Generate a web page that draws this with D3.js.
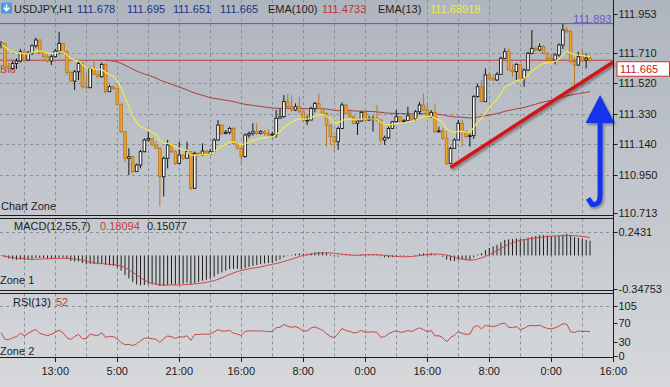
<!DOCTYPE html>
<html><head><meta charset="utf-8">
<script src="https://cdn.jsdelivr.net/npm/d3@7"></script>
<style>
html,body{margin:0;padding:0;background:#d2d4d7;}
svg{display:block;font-family:"Liberation Sans",Arial,sans-serif;}
</style></head><body>
<svg id="c" width="670" height="387"></svg>
<script>
// ---------------- DATA ----------------
const symbol = "USDJPY,H1";
const headerOHLC = ["111.678", "111.695", "111.651", "111.665"];
const firstOpen = 111.762;
const closes = [
111.770,111.624,111.614,111.645,111.660,111.718,111.666,111.708,111.755,111.791,
111.714,111.687,111.660,111.687,111.722,111.770,111.718,111.589,111.535,111.593,
111.645,111.500,111.494,111.614,111.577,111.562,111.639,111.469,111.500,111.490,
111.390,111.220,111.054,111.064,110.971,111.012,111.095,111.168,111.178,
111.137,
111.116,110.939,111.054,111.137,111.095,111.022,111.074,111.054,111.095,110.867,
111.085,111.074,111.099,111.079,111.095,111.168,111.261,111.209,111.216,111.240,
111.147,111.116,111.064,111.199,111.209,111.220,111.209,111.220,111.209,111.199,
111.203,111.303,111.313,111.407,111.375,111.355,111.375,111.344,111.292,
111.292,111.365,111.396,111.365,111.334,111.261,111.189,111.157,111.240,111.386,
111.334,111.313,111.272,111.286,111.340,111.292,111.299,111.303,111.292,111.168,
111.182,111.240,111.282,111.313,111.282,111.288,111.319,111.299,111.344,111.386,
111.355,111.313,111.340,111.220,111.224,111.178,111.022,111.116,111.168,
111.272,111.220,111.189,111.195,111.438,111.500,111.407,111.573,111.552,111.542,
111.577,111.677,111.718,111.604,111.594,111.639,111.552,111.604,111.708,111.739,
111.729,111.750,111.708,111.677,111.666,111.698,111.760,111.853,111.843,111.656,
111.635,111.687,111.666,111.678,111.665];
const highs = [
111.784,111.708,111.651,111.660,111.676,111.735,111.728,111.722,111.764,111.805,
111.791,111.722,111.708,111.701,111.735,111.842,111.759,111.728,111.597,111.604,
111.660,111.651,111.577,111.624,111.666,111.610,111.651,111.645,111.510,111.506,
111.494,111.396,111.224,111.116,111.070,111.022,111.106,111.178,111.220,
111.170,
111.162,111.126,111.064,111.168,111.132,111.106,111.157,111.079,111.157,111.089,
111.095,111.091,111.147,111.103,111.112,111.178,111.292,111.265,111.230,111.251,
111.251,111.157,111.126,111.209,111.220,111.272,111.272,111.230,111.230,111.236,
111.220,111.355,111.361,111.448,111.458,111.448,111.396,111.438,111.340,
111.319,111.375,111.406,111.458,111.369,111.340,111.265,111.195,111.251,111.402,
111.396,111.361,111.319,111.299,111.348,111.340,111.319,111.319,111.386,111.299,
111.195,111.251,111.286,111.355,111.303,111.299,111.375,111.319,111.355,111.406,
111.458,111.396,111.355,111.396,111.251,111.245,111.224,111.126,111.178,
111.293,111.293,111.230,111.209,111.448,111.521,111.542,111.614,111.590,111.577,
111.590,111.687,111.739,111.739,111.639,111.646,111.639,111.614,111.718,111.853,
111.750,111.770,111.760,111.714,111.708,111.708,111.770,111.893,111.874,111.853,
111.681,111.718,111.729,111.708,111.695];
const lows = [
111.739,111.593,111.604,111.604,111.610,111.651,111.655,111.660,111.697,111.743,
111.701,111.676,111.651,111.635,111.681,111.701,111.708,111.573,111.527,111.479,
111.541,111.490,111.485,111.490,111.573,111.552,111.556,111.458,111.473,111.479,
111.382,111.209,111.029,110.950,110.960,110.971,110.991,111.091,111.157,
111.130,
111.112,110.753,110.815,110.991,111.085,111.012,111.016,111.043,111.058,110.856,
110.863,111.064,111.070,111.070,111.074,111.095,111.162,111.199,111.203,111.203,
111.137,111.106,111.012,111.058,111.182,111.195,111.199,111.203,111.195,111.189,
111.178,111.182,111.303,111.307,111.365,111.344,111.348,111.334,111.282,
111.261,111.303,111.340,111.361,111.328,111.126,111.137,111.095,111.106,111.236,
111.328,111.307,111.265,111.199,111.282,111.286,111.286,111.220,111.282,111.147,
111.137,111.174,111.236,111.278,111.278,111.278,111.286,111.286,111.286,111.328,
111.348,111.307,111.307,111.209,111.216,111.168,111.012,111.016,111.112,
111.168,111.126,111.178,111.126,111.174,111.432,111.403,111.465,111.542,111.536,
111.536,111.577,111.673,111.598,111.563,111.542,111.542,111.500,111.598,111.702,
111.718,111.722,111.702,111.666,111.656,111.639,111.687,111.735,111.833,111.646,
111.511,111.631,111.656,111.614,111.651];

const timeLabels = ["13:00","5:00","21:00","16:00","8:00","0:00","16:00","8:00","0:00","16:00"];
const timeLabelBars = [14,30,46,62,78,94,110,126,142,158];
const gridBars = [6,14,22,30,38,46,54,62,70,78,86,94,102,110,118,126,134,142,150];
const priceTicks = [111.953,111.710,111.520,111.330,111.140,110.950,110.713];
const priceGrid = [111.710,111.520,111.330,111.140,110.950];
const macdTicks = [0.2431,-0.34753];
const macdTickLabels = ["0.2431","-0.34753"];
const rsiTicks = [105,70,30,0];
const bidPrice = 111.665;
const highPrice = 111.893;
const ema100StartBar = 27, ema100Seed = 111.666;
const ema13Text = "111.68918", ema100Text = "111.4733";
const macdTexts = ["0.18094","0.15077"];
const rsiText = "52";
const rsiSeed = 0.015;
const trendPts = [[116,110.997],[158,111.654]];
const resistPts = [[135,111.887],[158,111.887]];
const arrowBar = 154.6, arrowTip = 111.448, arrowBase = 111.274, arrowBottom = 110.760;

// ---------------- INDICATORS ----------------
const N = closes.length;
const opens = closes.map((c,i)=> i===0 ? firstOpen : closes[i-1]);
const bars = closes.map((c,i)=>({i, o:opens[i], c, h:Math.max(highs[i],opens[i],c), l:Math.min(lows[i],opens[i],c)}));
function ema(vals,n,start,seed){const k=2/(n+1);const out=new Array(vals.length).fill(null);let e=seed;
  for(let i=start;i<vals.length;i++){ if(i>start) e=vals[i]*k+e*(1-k); out[i]=e;} return out;}
const ema13 = ema(closes,13,0,closes[0]);
const ema100 = ema(closes,100,ema100StartBar,ema100Seed);
const e12 = ema(closes,12,0,closes[0]), e55 = ema(closes,55,0,closes[0]);
const macd = e12.map((v,i)=>v-e55[i]);
const signal = macd.map((v,i)=>{const s=macd.slice(Math.max(0,i-6),i+1);return d3.mean(s);});
const rsi = [];
{let ag=rsiSeed, al=rsiSeed; for(let i=0;i<N;i++){ if(i>0){const ch=closes[i]-closes[i-1];
  ag=(ag*12+Math.max(ch,0))/13; al=(al*12+Math.max(-ch,0))/13;} rsi.push(100-100/(1+ag/al));}}

// ---------------- SCALES ----------------
const svg = d3.select("#c");
const R = 613.5;
const xs = d3.scaleLinear().domain([0,158]).range([1,613.25]);
const ys = d3.scaleLinear().domain([110.713,111.953]).range([213,14]);
const ym = d3.scaleLinear().domain([-0.34753,0.2431]).range([289,232]);
const yr = d3.scaleLinear().domain([0,105]).range([356.25,306.4]);
const panels = [[0,215],[218.5,290],[293.5,357]];

// background
const defs = svg.append("defs");
const g1 = defs.append("linearGradient").attr("id","bg").attr("x1",0).attr("y1",0).attr("x2",0).attr("y2",1);
g1.append("stop").attr("offset","0%").attr("stop-color","#afb5be");
g1.append("stop").attr("offset","55%").attr("stop-color","#c4c8ce");
g1.append("stop").attr("offset","100%").attr("stop-color","#d6d8db");
const sh = defs.append("filter").attr("id","sh").attr("x","-20%").attr("y","-20%").attr("width","140%").attr("height","140%");
sh.append("feDropShadow").attr("dx",1.5).attr("dy",2).attr("stdDeviation",1.2).attr("flood-color","#000").attr("flood-opacity",0.35);
svg.append("rect").attr("width",670).attr("height",387).attr("fill","url(#bg)");

// grid
const grid = svg.append("g").attr("stroke","#8a9199").attr("stroke-dasharray","3,3").attr("stroke-width",1);
panels.forEach(([a,b])=>{
  gridBars.forEach(gb=>grid.append("line").attr("x1",Math.round(xs(gb))+0.5).attr("x2",Math.round(xs(gb))+0.5).attr("y1",a).attr("y2",b));
});
priceGrid.forEach(p=>grid.append("line").attr("x1",0).attr("x2",R).attr("y1",Math.round(ys(p))+0.5).attr("y2",Math.round(ys(p))+0.5));
grid.append("line").attr("x1",0).attr("x2",R).attr("y1",Math.round(ym(macdTicks[0]))+0.5).attr("y2",Math.round(ym(macdTicks[0]))+0.5);
grid.append("line").attr("x1",0).attr("x2",R).attr("y1",Math.round(yr(105))+0.5).attr("y2",Math.round(yr(105))+0.5);

// bid line + label
svg.append("line").attr("x1",0).attr("x2",R).attr("y1",ys(bidPrice)).attr("y2",ys(bidPrice)).attr("stroke","#c23b3b").attr("stroke-width",1);
svg.append("text").attr("x",0).attr("y",ys(bidPrice)+13).attr("font-size",11).attr("fill","#c04848").text("Bid");
// high line
svg.append("line").attr("x1",0).attr("x2",R).attr("y1",ys(highPrice)).attr("y2",ys(highPrice)).attr("stroke","#6650c8").attr("stroke-width",1);

// EMA100
const lineMain = d3.line().defined(d=>d!=null).x((d,i)=>xs(i)).y(d=>ys(d));
svg.append("path").datum(ema100).attr("d",lineMain).attr("fill","none").attr("stroke","#b03a3a").attr("stroke-width",1);

// candles
const cg = svg.append("g");
bars.forEach(b=>{
  const x = xs(b.i), up = b.c>=b.o;
  cg.append("line").attr("x1",x).attr("x2",x).attr("y1",ys(b.h)).attr("y2",ys(b.l))
    .attr("stroke", up?"#151515":"#b8782c").attr("stroke-width",1);
  const y0 = ys(Math.max(b.o,b.c)), y1 = ys(Math.min(b.o,b.c));
  cg.append("rect").attr("x",x-1.3).attr("width",2.6).attr("y",y0).attr("height",Math.max(0.8,y1-y0))
    .attr("fill", up?"#ffffff":"#f0a428").attr("stroke", up?"#151515":"#b87a22").attr("stroke-width",0.9);
});

// EMA13
svg.append("path").datum(ema13).attr("d",lineMain).attr("fill","none").attr("stroke","#f2ea48").attr("stroke-width",1.2);

// annotations: resistance & trend lines, arrow
[resistPts,trendPts].forEach(pts=>{
  svg.append("line").attr("x1",xs(pts[0][0])).attr("y1",ys(pts[0][1])).attr("x2",xs(pts[1][0])).attr("y2",ys(pts[1][1]))
   .attr("stroke","#d01818").attr("stroke-width",3.5).attr("filter","url(#sh)");
});
svg.append("text").attr("x",R-2).attr("y",ys(highPrice)-0.5).attr("text-anchor","end").attr("font-size",11).attr("fill","#6a58c8").text(d3.format(".3f")(highPrice));
{
  const cx = xs(arrowBar), ty = ys(arrowTip), by = ys(arrowBase), bot = ys(arrowBottom);
  const ag = svg.append("g").attr("filter","url(#sh)");
  ag.append("path").attr("d",`M${cx},${by-1} L${cx},${bot-10} Q${cx},${bot} ${cx-8},${bot-1} L${cx-12},${bot-7}`)
    .attr("fill","none").attr("stroke","#1430ea").attr("stroke-width",5);
  ag.append("path").attr("d",`M${cx},${ty} L${cx+14.5},${by} L${cx-14.5},${by} Z`).attr("fill","#1430ea");
}

// MACD
const mg = svg.append("g");
macd.forEach((v,i)=>mg.append("line").attr("x1",xs(i)).attr("x2",xs(i)).attr("y1",ym(0)).attr("y2",ym(v)).attr("stroke","#1e1e1e").attr("stroke-width",1));
svg.append("path").datum(signal).attr("d",d3.line().x((d,i)=>xs(i)).y(d=>ym(d))).attr("fill","none").attr("stroke","#d04545").attr("stroke-width",1);
// RSI
svg.append("path").datum(rsi).attr("d",d3.line().x((d,i)=>xs(i)).y(d=>yr(d))).attr("fill","none").attr("stroke","#c44848").attr("stroke-width",1);

// separators / axes
const ax = svg.append("g").attr("stroke","#1c1c1c").attr("stroke-width",1);
[215.5,218.5,290.5,293.5].forEach(y=>ax.append("line").attr("x1",0).attr("x2",R).attr("y1",y).attr("y2",y));
ax.append("line").attr("x1",R).attr("x2",R).attr("y1",0).attr("y2",357.5);
ax.append("line").attr("x1",0).attr("x2",R).attr("y1",357.5).attr("y2",357.5);

const lab = svg.append("g").attr("font-size",11).attr("fill","#1c1c1c");
function rTick(y,t){ ax.append("line").attr("x1",R).attr("x2",R+4).attr("y1",Math.round(y)+0.5).attr("y2",Math.round(y)+0.5);
  lab.append("text").attr("x",R+5).attr("y",y).attr("dy","0.35em").text(t);}
priceTicks.forEach(p=>rTick(ys(p),d3.format(".3f")(p)));
macdTicks.forEach((p,i)=>rTick(ym(p),macdTickLabels[i]));
rsiTicks.forEach(p=>rTick(yr(p),String(p)));
timeLabels.forEach((t,i)=>{const x=xs(timeLabelBars[i]);
  ax.append("line").attr("x1",Math.round(x)+0.5).attr("x2",Math.round(x)+0.5).attr("y1",357.5).attr("y2",362);
  lab.append("text").attr("x",x).attr("y",375).attr("text-anchor","middle").text(t);});

// bid price box
svg.append("rect").attr("x",617).attr("y",ys(bidPrice)+1.5).attr("width",52.5).attr("height",14.5).attr("fill","#ffffff").attr("stroke","#cc3030");
svg.append("text").attr("x",620).attr("y",ys(bidPrice)+9).attr("dy","0.35em").attr("font-size",11).attr("fill","#cc2020").text(d3.format(".3f")(bidPrice));

// header
svg.append("rect").attr("x",1).attr("y",2.5).attr("width",11).attr("height",11).attr("rx",1.5).attr("fill","#4a9ae6");
svg.append("path").attr("d","M6.5,4.5 L6.5,10 M3.8,7.6 L6.5,10.6 L9.2,7.6").attr("stroke","#fff").attr("stroke-width",1.6).attr("fill","none");
const hd = svg.append("g").attr("font-size",11);
hd.append("text").attr("x",14).attr("y",13).attr("fill","#1e1e1e").text(symbol);
[77,127,173,220].forEach((x,i)=>hd.append("text").attr("x",x).attr("y",13).attr("fill","#232f8c").text(headerOHLC[i]));
hd.append("text").attr("x",268).attr("y",13).attr("fill","#1e1e1e").text("EMA(100)");
hd.append("text").attr("x",322).attr("y",13).attr("fill","#c03434").text(ema100Text);
hd.append("text").attr("x",378).attr("y",13).attr("fill","#1e1e1e").text("EMA(13)");
hd.append("text").attr("x",430).attr("y",13).attr("fill","#eeec46").text(ema13Text);

// panel titles
lab.append("text").attr("x",1).attr("y",210).text("Chart Zone");
lab.append("text").attr("x",14).attr("y",230).text("MACD(12,55,7)");
lab.append("text").attr("x",100).attr("y",230).attr("fill","#c83a3a").text(macdTexts[0]);
lab.append("text").attr("x",147).attr("y",230).text(macdTexts[1]);
lab.append("text").attr("x",0).attr("y",284).text("Zone 1");
lab.append("text").attr("x",13).attr("y",306).text("RSI(13)");
lab.append("text").attr("x",56).attr("y",306).attr("fill","#c83a3a").text(rsiText);
lab.append("text").attr("x",0).attr("y",355).text("Zone 2");
</script>
</body></html>
